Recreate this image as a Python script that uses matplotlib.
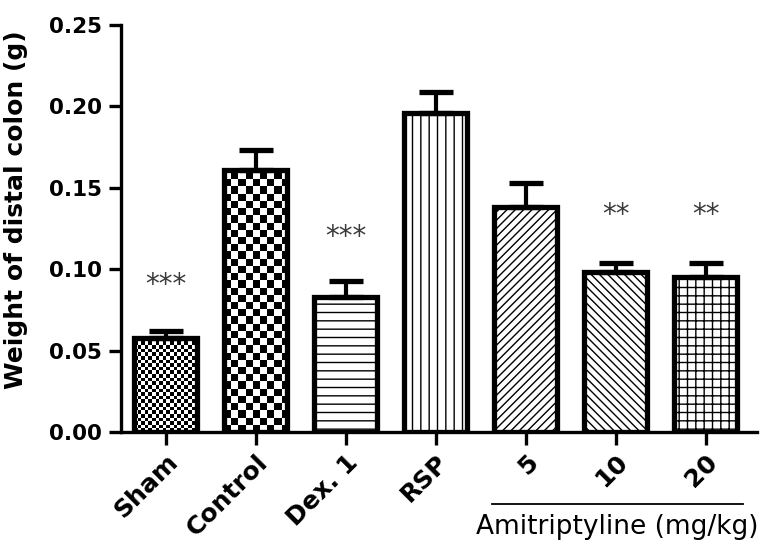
import numpy as np
import matplotlib
matplotlib.use("Agg")
import matplotlib.pyplot as plt

plt.rcParams['font.family'] = ['DejaVu Sans']
plt.rcParams['hatch.linewidth'] = 1.0

groups = ["Sham", "Control", "Dex. 1", "RSP", "5", "10", "20"]
means = [0.058, 0.161, 0.083, 0.196, 0.138, 0.098, 0.095]
errors = [0.004, 0.012, 0.010, 0.013, 0.015, 0.006, 0.009]
stars = ["***", "", "***", "", "", "**", "**"]
star_y = [0.090, None, 0.120, None, None, 0.133, 0.133]
hatches = [None, None, "--", "||", "////", "\\\\\\\\", "++"]
checker_px = [3.6, 7.2, None, None, None, None, None]

W, H = 760, 553
fig = plt.figure(figsize=(W / 100, H / 100), dpi=100)
ax = fig.add_axes([121 / W, 1 - 432 / H, (757 - 121) / W, (432 - 25) / H])

x = np.arange(len(groups))
xlim = (-0.5, 6.57)
ylim = (0, 0.25)
ax.set_xlim(*xlim)
ax.set_ylim(*ylim)

bars = ax.bar(x, means, width=0.7, color="white", edgecolor="black", linewidth=3.8, zorder=3)
for b, h, cp in zip(bars, hatches, checker_px):
    if h:
        b.set_hatch(h)
    if cp is not None:
        b.set_facecolor("none")

# checkerboard fill for Sham and Control
px_x = ax.get_position().width * W / (xlim[1] - xlim[0])
px_y = ax.get_position().height * H / (ylim[1] - ylim[0])
for b, cp in zip(bars, checker_px):
    if cp is None:
        continue
    x0, w, hgt = b.get_x(), b.get_width(), b.get_height()
    nx = int(np.ceil(w * px_x / cp))
    ny = int(np.ceil(hgt * px_y / cp))
    ii, jj = np.indices((ny, nx))
    img = ((ii + jj) % 2).astype(float)
    im = ax.imshow(img, cmap="gray", extent=(x0, x0 + nx * cp / px_x, 0, ny * cp / px_y),
                   origin="lower", interpolation="nearest", aspect="auto", zorder=2)
    im.set_clip_path(b)
ax.set_xlim(*xlim)
ax.set_ylim(*ylim)

ax.errorbar(x, means, yerr=[np.zeros(len(means)), errors], fmt="none", ecolor="black",
            elinewidth=3, capsize=12, capthick=3.8, zorder=4)

for xi, s, sy in zip(x, stars, star_y):
    if s:
        ax.text(xi, sy, s, ha="center", va="center", fontsize=20, color="#3a3a3a")

for side in ["top", "right"]:
    ax.spines[side].set_visible(False)
for side in ["left", "bottom"]:
    ax.spines[side].set_linewidth(2.4)

yt = np.arange(0, 0.26, 0.05)
ax.set_yticks(yt)
ax.set_yticklabels(["%.2f" % v for v in yt], fontsize=15.5, fontweight="bold")
ax.set_xticks(x)
ax.set_xticklabels(groups, rotation=45, ha="right", rotation_mode="anchor", fontsize=18, fontweight="bold")
ax.tick_params(axis="both", width=2.4, length=9)
ax.tick_params(axis="y", pad=5)
ax.tick_params(axis="x", pad=4)
ax.set_ylabel("Weight of distal colon (g)", fontsize=18, fontweight="bold")
ax.yaxis.set_label_coords(-0.146, 0.545)

fig.add_artist(plt.Line2D([492 / W, 743 / W], [1 - 504 / H, 1 - 504 / H], color="black", linewidth=1.3))
fig.text(617 / W, 1 - 527 / H, "Amitriptyline (mg/kg)", ha="center", va="center", fontsize=19)

fig.savefig("out.png", dpi=100)
